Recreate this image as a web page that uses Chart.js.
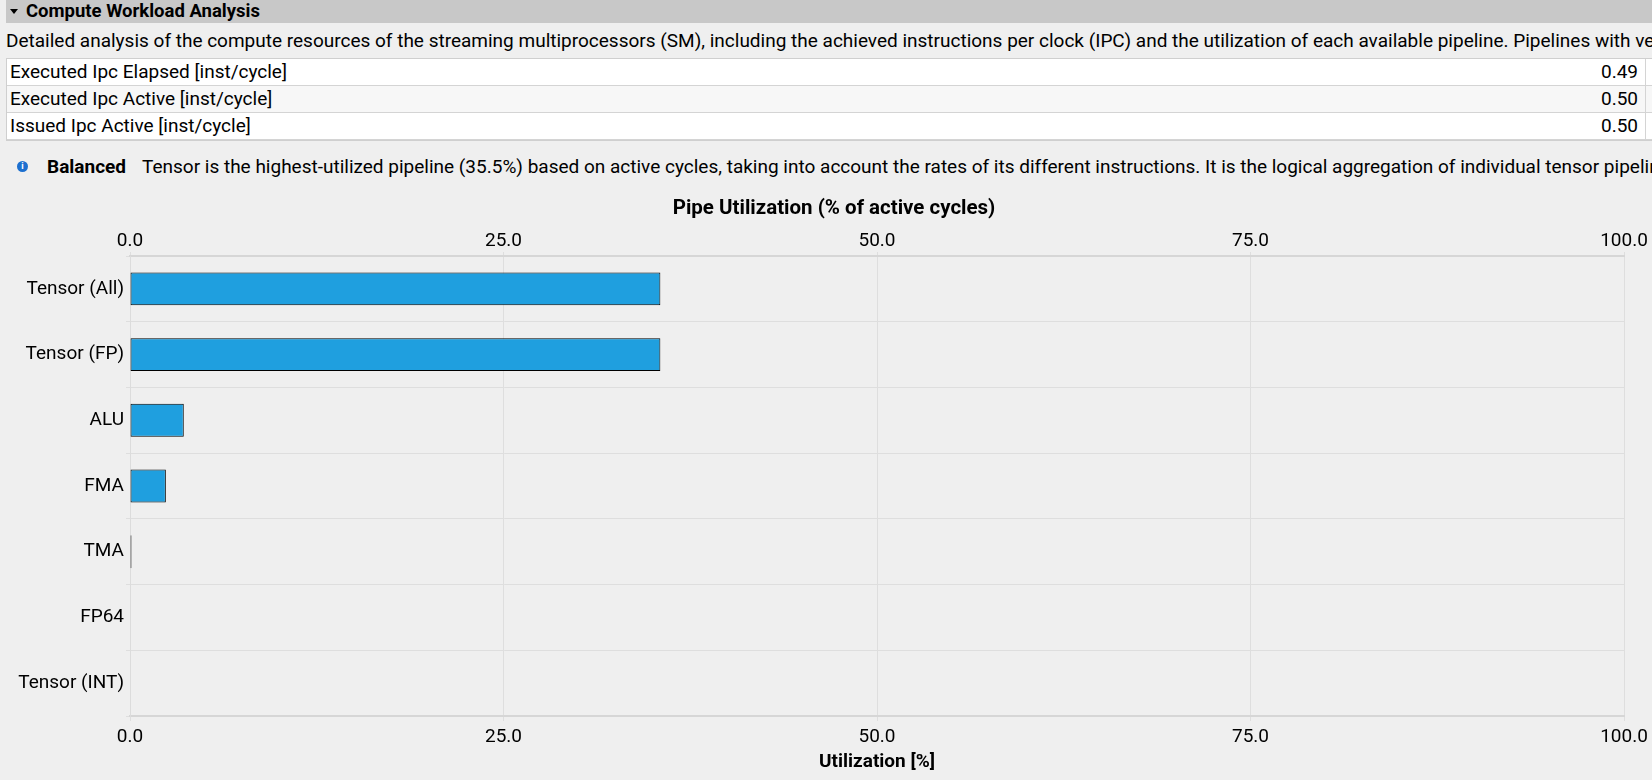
<!DOCTYPE html>
<html lang="en">
  <head>
    <meta charset="UTF-8" />
    <title>Compute Workload Analysis</title>
    <script src="https://cdn.jsdelivr.net/npm/chart.js"></script>
    <style>
      body {
        margin: 0;
        width: 1652px;
        height: 780px;
        overflow: hidden;
        background: #efefef;
        font-family: Roboto, 'Noto Sans', sans-serif;
        color: #000;
        position: relative;
      }
      #section-header {
        position: absolute;
        left: 6px;
        top: 0;
        right: 0;
        height: 23px;
        background: #c8c8c8;
        font-weight: bold;
        font-size: 18.5px;
        line-height: 23px;
        white-space: nowrap;
      }
      #section-header .arrow {
        position: absolute;
        left: 4px;
        top: 9px;
        width: 0;
        height: 0;
        border-left: 4px solid transparent;
        border-right: 4px solid transparent;
        border-top: 5px solid #000;
      }
      #section-header .label {
        position: absolute;
        left: 20px;
      }
      #description {
        position: absolute;
        left: 6px;
        top: 29px;
        right: 0;
        height: 24px;
        font-size: 19px;
        line-height: 24px;
        white-space: nowrap;
        overflow: hidden;
      }
      #metrics {
        position: absolute;
        left: 6px;
        top: 58px;
        width: 1700px;
        border-top: 1px solid #cfcfcf;
        border-left: 1px solid #cfcfcf;
        border-bottom: 1px solid #cfcfcf;
      }
      .metric-row {
        position: relative;
        height: 26px;
        border-bottom: 1px solid #d4d4d4;
        font-size: 19px;
        line-height: 26px;
        background: #fff;
      }
      .metric-row:nth-child(2) {
        background: #f7f7f7;
      }
      .metric-row .name {
        position: absolute;
        left: 3px;
      }
      .metric-row .value {
        position: absolute;
        right: 69px;
      }
      .metric-row .sep {
        position: absolute;
        left: 1638px;
        top: 0;
        bottom: 0;
        border-left: 1px solid #d4d4d4;
      }
      #rule {
        position: absolute;
        left: 0;
        top: 155px;
        right: 0;
        height: 24px;
        font-size: 19px;
        line-height: 24px;
        white-space: nowrap;
        overflow: hidden;
      }
      #rule .icon {
        position: absolute;
        left: 17px;
        top: 6px;
        width: 11px;
        height: 11px;
        border-radius: 50%;
        background: #1c6fcf;
        color: #fff;
        font-size: 9px;
        font-weight: bold;
        line-height: 11px;
        text-align: center;
      }
      #rule .kind {
        position: absolute;
        left: 47px;
        font-weight: bold;
      }
      #rule .text {
        position: absolute;
        left: 142px;
      }
      #chart-box {
        position: absolute;
        left: 0;
        top: 185px;
        width: 1652px;
        height: 595px;
      }
    </style>
  </head>
  <body>
    <div id="section-header">
      <span class="arrow"></span>
      <span class="label">Compute Workload Analysis</span>
    </div>
    <div id="description">
      Detailed analysis of the compute resources of the streaming
      multiprocessors (SM), including the achieved instructions per clock
      (IPC) and the utilization of each available pipeline. Pipelines with
      very high utilization might limit the overall performance.
    </div>
    <div id="metrics"></div>
    <div id="rule">
      <span class="icon">i</span>
      <span class="kind">Balanced</span>
      <span class="text"
        >Tensor is the highest-utilized pipeline (35.5%) based on active
        cycles, taking into account the rates of its different instructions.
        It is the logical aggregation of individual tensor pipelines. It's
        dominated by its Tensor (FP) sub-metric.</span
      >
    </div>
    <div id="chart-box">
      <canvas id="pipeChart"></canvas>
    </div>

    <script>
      // metrics table
      const metricNames = [
        'Executed Ipc Elapsed [inst/cycle]',
        'Executed Ipc Active [inst/cycle]',
        'Issued Ipc Active [inst/cycle]'
      ]
      const metricValues = ['0.49', '0.50', '0.50']

      // pipe utilization chart
      const pipeNames = [
        'Tensor (All)',
        'Tensor (FP)',
        'ALU',
        'FMA',
        'TMA',
        'FP64',
        'Tensor (INT)'
      ]
      const pipeUtilization = [35.5, 35.5, 3.6, 2.4, 0.1, 0, 0]
      const utilTicks = [0, 25, 50, 75, 100]

      const metricsEl = document.getElementById('metrics')
      metricNames.forEach((name, i) => {
        const row = document.createElement('div')
        row.className = 'metric-row'
        row.innerHTML =
          '<span class="name">' + name + '</span>' +
          '<span class="value">' + metricValues[i] + '</span>' +
          '<span class="sep"></span>'
        metricsEl.appendChild(row)
      })

      const FONT = 'Roboto'
      const gridColor = '#dedede'

      // both x axes share the same look
      function utilAxis(position, height, extra) {
        return Object.assign(
          {
            type: 'linear',
            position: position,
            min: 0,
            max: 100,
            afterBuildTicks: scale => {
              scale.ticks = utilTicks.map(v => ({ value: v }))
            },
            afterFit: scale => {
              scale.height = height
              scale.paddingRight = 28 // keep room right of the plot
            },
            grid: { color: gridColor, tickLength: 5 },
            border: { color: '#d6d6d6', width: 2 },
            ticks: {
              color: '#000',
              padding: 5,
              font: { family: FONT, size: 19 },
              callback: v => Number(v).toFixed(1)
            }
          },
          extra
        )
      }

      new Chart(document.getElementById('pipeChart'), {
        type: 'bar',
        data: {
          labels: pipeNames,
          datasets: [
            {
              data: pipeUtilization,
              backgroundColor: '#1f9fdf',
              borderColor: '#000',
              borderWidth: 1,
              borderSkipped: false,
              barPercentage: 0.5,
              categoryPercentage: 1.0
            }
          ]
        },
        options: {
          indexAxis: 'y',
          responsive: true,
          maintainAspectRatio: false,
          animation: false,
          layout: { padding: { left: 16, right: 0, top: 0, bottom: 0 } },
          plugins: {
            legend: { display: false },
            tooltip: { enabled: false },
            title: {
              display: true,
              text: 'Pipe Utilization (% of active cycles)',
              color: '#000',
              font: { family: FONT, size: 20.5, weight: 'bold' },
              padding: { top: 11.5, bottom: 0 }
            }
          },
          scales: {
            x: utilAxis('bottom', 64, {
              title: {
                display: true,
                text: 'Utilization [%]',
                color: '#000',
                font: { family: FONT, size: 19, weight: 'bold' },
                padding: { top: 2, bottom: 6 }
              }
            }),
            xTop: utilAxis('top', 34.9, {
              grid: { color: gridColor, tickLength: 4, drawOnChartArea: false },
              ticks: {
                color: '#000',
                padding: -1,
                font: { family: FONT, size: 19 },
                callback: v => Number(v).toFixed(1)
              }
            }),
            y: {
              type: 'category',
              afterFit: scale => {
                scale.width = 114
              },
              grid: { color: gridColor, tickLength: 4, offset: true },
              border: { color: '#dcdcdc', width: 1 },
              ticks: {
                color: '#000',
                padding: 2,
                font: { family: FONT, size: 19 }
              }
            }
          }
        }
      })
    </script>
  </body>
</html>
